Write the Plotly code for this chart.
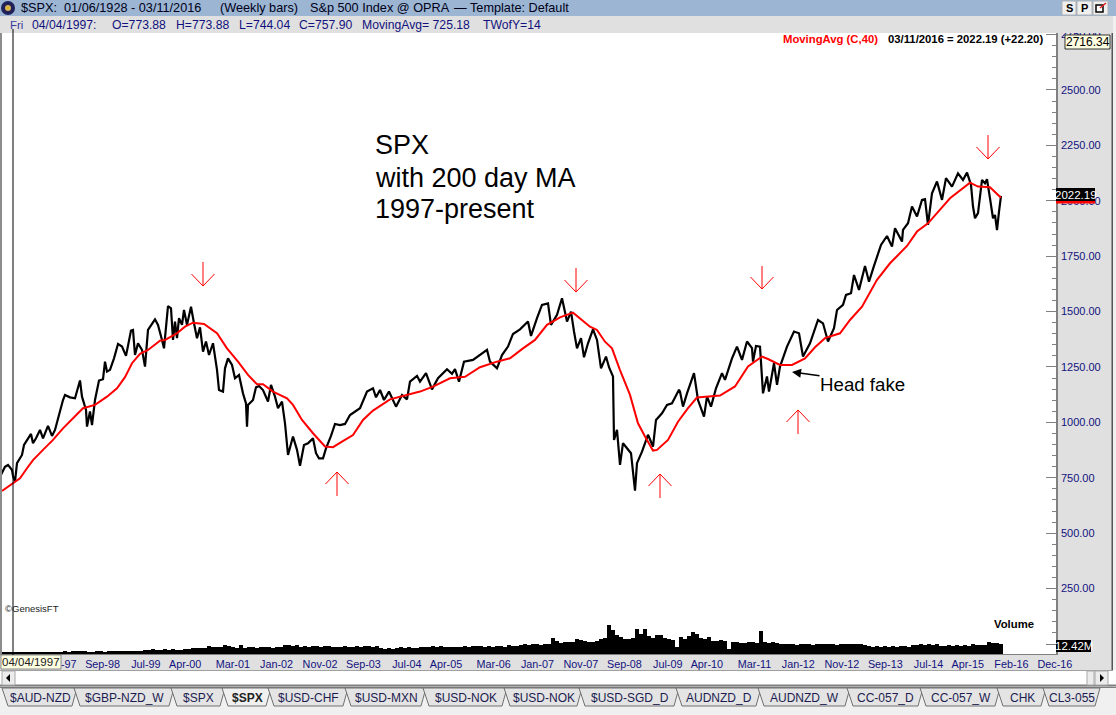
"""
SPX weekly with 40 week (200 day) moving average, 1997-present
"""
import pandas as pd
import plotly.graph_objects as go

W, H = 1116, 715
start_date = pd.Timestamp("1997-04-04")

# weeks counted from 04/04/1997, closes
close_weeks = [-12, -8, -5, -1, 0, 2, 4, 9, 11, 15, 18, 20, 23, 27, 30, 35, 39, 42, 45, 50, 52, 57, 62, 64, 67, 69, 73, 74, 77, 79,
               82, 86, 90, 92, 94, 97, 101, 105, 109, 113, 118, 120, 122, 125, 129, 132, 135, 142, 145, 149, 151, 155, 158, 160,
               162, 164, 166, 169, 171, 174, 178, 181, 184, 187, 190, 193, 196, 200, 204, 206, 210, 212, 215, 219, 222, 226, 230,
               233, 234, 235, 240, 243, 246, 250, 255, 258, 262, 265, 269, 272, 275, 280, 284, 287, 291, 295, 300, 303, 306, 310,
               313, 318, 322, 327, 332, 337, 342, 347, 354, 360, 363, 367, 371, 376, 383, 389, 394, 397, 404, 407, 413, 419, 425,
               434, 439, 442, 446, 451, 460, 466, 474, 477, 484, 489, 495, 500, 507, 515, 518, 524, 529, 535, 538, 544, 549, 554,
               558, 561, 564, 568, 571, 575, 580, 584, 588, 593, 596, 600, 601, 604, 607, 610, 614, 618, 622, 624, 629, 635, 640,
               643, 649, 654, 659, 666, 667, 670, 674, 681, 685, 691, 694, 698, 703, 709, 712, 719, 724, 729, 734, 739, 740, 743,
               747, 750, 754, 756, 761, 764, 767, 774, 781, 786, 790, 797, 805, 810, 815, 821, 824, 830, 833, 838, 841, 846, 852,
               856, 861, 865, 868, 874, 879, 882, 889, 890, 895, 899, 904, 909, 912, 915, 919, 924, 929, 933, 939, 945, 950, 954,
               958, 960, 962, 965, 969, 972, 974, 977, 980, 982, 984, 986, 988]
close_values = [763, 800, 808, 785, 758, 733, 816, 853, 898, 928, 948, 906, 928, 966, 928, 984, 939, 966, 1019, 1101, 1124, 1113, 1109, 1146, 1189, 1116, 1056, 981, 1049, 988,
                1101, 1189, 1195, 1274, 1229, 1237, 1289, 1354, 1342, 1300, 1414, 1417, 1304, 1357, 1327, 1252, 1417, 1465, 1440, 1372, 1334, 1525, 1515, 1372,
                1455, 1380, 1470, 1440, 1507, 1440, 1522, 1447, 1380, 1429, 1319, 1365, 1304, 1357, 1237, 1146, 1139, 1244, 1289, 1259, 1199, 1214, 1131,
                1086, 981, 1079, 1101, 1158, 1164, 1146, 1094, 1169, 1116, 1064, 1094, 996, 853, 936, 876, 804, 898, 906, 928, 861, 838, 838,
                883, 939, 993, 988, 993, 1033, 1048, 1064, 1139, 1154, 1113, 1146, 1101, 1139, 1071, 1124, 1104, 1184, 1210, 1184, 1222, 1149, 1199,
                1240, 1219, 1240, 1184, 1274, 1282, 1300, 1327, 1274, 1244, 1304, 1342, 1399, 1420, 1455, 1390, 1470, 1530, 1537, 1440, 1485, 1560, 1455,
                1500, 1410, 1334, 1380, 1294, 1357, 1420, 1372, 1244, 1297, 1249, 1207, 921, 966, 808, 906, 883, 861, 692, 816, 868, 944, 891,
                1011, 1041, 1079, 1086, 1147, 1139, 1071, 1131, 1222, 1101, 1026, 1116, 1071, 1154, 1222, 1192, 1289, 1342, 1282, 1365, 1335, 1274, 1345,
                1342, 1131, 1207, 1139, 1267, 1169, 1252, 1342, 1410, 1402, 1297, 1357, 1462, 1447, 1365, 1425, 1507, 1530, 1575, 1583, 1665, 1598, 1706,
                1635, 1706, 1756, 1801, 1841, 1793, 1876, 1816, 1869, 1899, 1974, 1929, 2004, 2007, 1891, 2034, 2087, 2004, 2102, 2064, 2124, 2094, 2127,
                2072, 1974, 1921, 1944, 2094, 2079, 2097, 2011, 1921, 1936, 1868, 1951, 2022.19]

ma_weeks = [-11, 2, 7, 14, 20, 30, 40, 50, 60, 70, 82, 94, 104, 112, 119, 127, 135, 147, 152, 164, 172, 180, 191, 204, 214, 225, 235,
            244, 250, 260, 274, 280, 289, 300, 312, 320, 329, 336, 340, 350, 360, 377, 394, 407, 420, 437, 452, 467, 484, 497, 510,
            522, 534, 547, 560, 577, 584, 592, 599, 607, 617, 625, 632, 640, 644, 655, 665, 675, 684, 697, 707, 722, 735, 749, 755,
            767, 779, 792, 802, 812, 827, 837, 849, 864, 877, 894, 904, 915, 937, 957, 965, 977, 988]
ma_values = [691, 733, 748, 793, 830, 876, 921, 973, 1019, 1064, 1079, 1116, 1154, 1204, 1267, 1309, 1327, 1369, 1372, 1402, 1432, 1450, 1444, 1402, 1334, 1274, 1214,
             1172, 1172, 1139, 1109, 1079, 1011, 951, 891, 888, 913, 931, 943, 1011, 1053, 1104, 1124, 1139, 1161, 1199, 1206, 1249, 1274, 1289, 1334,
             1372, 1440, 1474, 1495, 1432, 1417, 1364, 1334, 1236, 1124, 996, 936, 873, 876, 921, 1003, 1064, 1112, 1119, 1121, 1162, 1252, 1297, 1286,
             1259, 1259, 1289, 1339, 1380, 1402, 1462, 1522, 1643, 1718, 1796, 1861, 1898, 2011, 2082, 2064, 2061, 2014]

# volume in millions, one reading per four weeks
volume_m = [1.9, 1.9, 1.9, 1.9, 1.9, 2.0, 1.9, 1.9, 2.0, 1.9, 2.0, 1.9, 2.0, 2.0, 2.1,
            3.0, 3.4, 2.8, 3.6, 3.2, 3.4, 3.9, 3.0, 2.9, 3.3,
            3.6, 3.0, 3.4, 3.5, 3.9, 3.4, 3.6, 4.1, 3.5, 3.8,
            3.9, 4.6, 4.4, 5.6, 4.8, 5.2, 6.0, 5.0, 6.1, 5.3,
            5.2, 5.8, 6.4, 7.5, 8.0,
            8.0, 7.2, 10.5, 8.6, 8.4, 8.2, 11.0, 9.5, 8.6, 7.8,
            11.2, 7.4, 8.9, 8.6, 7.9, 8.8, 8.2, 9.0, 7.8, 8.6,
            9.2, 10.6, 11.6, 10.0, 11.0,
            8.4, 9.6, 8.8, 9.8, 10.2, 8.6, 9.4, 10.4, 9.2, 8.8,
            8.6, 9.8, 8.6, 8.8, 9.6, 8.4, 9.4, 10.2, 8.8, 10.0,
            7.0, 6.6, 7.6, 6.8, 7.8, 8.2, 7.2, 8.6, 7.8, 7.4,
            8.4, 9.2, 8.2, 9.6, 8.8, 9.4, 8.4, 9.0, 8.6, 9.2,
            9.0, 10.2, 8.8, 9.8, 9.4, 10.0, 8.8, 10.4, 9.2, 9.6, 10.4, 9.0, 10.6, 9.6, 10.2,
            11.4, 12.6, 11.0, 12.2, 12.8, 11.6, 12.4, 13.0,
            20.0, 16.0, 14.0, 15.4, 15.0,
            14.5, 18.6, 17.6,
            15.8, 14.6, 15.4, 16.0,
            19.0, 20.0, 36.0,
            30.0, 24.0, 21.0, 18.0,
            18.6, 20.0,
            31.0, 25.0, 31.0,
            22.0, 20.0, 23.0, 24.0,
            20.0, 18.6, 17.6, 9.0,
            21.0, 19.0, 22.0,
            27.0, 25.0,
            20.0, 19.0, 21.0,
            16.5, 15.6, 17.0, 16.0,
            6.0,
            15.0, 14.5, 14.0, 13.6, 14.6, 15.0, 14.0,
            28.0, 15.0,
            14.0, 15.0, 13.5,
            12.4, 11.8, 12.8, 12.2, 11.6, 12.6, 12.0, 12.8, 11.6, 12.4, 12.9, 11.8, 12.2, 12.6, 11.4, 12.8, 12.0, 12.4, 11.8, 12.6, 12.2, 11.6,
            9.5, 8.8, 9.8, 9.2, 10.0, 9.0, 9.6, 8.8, 9.4, 10.0, 9.2,
            11.6, 10.8, 12.4, 11.2, 12.0, 11.0, 11.8,
            10.5, 9.8, 11.0, 10.2, 10.8, 10.0, 11.2, 10.4, 12.2, 10.6, 11.0, 10.8,
            14.5, 13.8, 14.0, 12.42]

tick_dates = ["1997-11-01", "1998-09-01", "1999-07-01", "2000-04-01", "2001-03-01", "2002-01-01", "2002-11-01",
              "2003-09-01", "2004-07-01", "2005-04-01", "2006-03-01", "2007-01-01", "2007-11-01", "2008-09-01",
              "2009-07-01", "2010-04-01", "2011-03-01", "2012-01-01", "2012-11-01", "2013-09-01", "2014-07-01",
              "2015-04-01", "2016-02-01", "2016-12-01"]
tick_labels = ["Nov-97", "Sep-98", "Jul-99", "Apr-00", "Mar-01", "Jan-02", "Nov-02", "Sep-03", "Jul-04", "Apr-05", "Mar-06",
               "Jan-07", "Nov-07", "Sep-08", "Jul-09", "Apr-10", "Mar-11", "Jan-12", "Nov-12", "Sep-13", "Jul-14", "Apr-15",
               "Feb-16", "Dec-16"]

tab_names = ["$AUD-NZD", "$GBP-NZD_W", "$SPX", "$SPX", "$USD-CHF", "$USD-MXN", "$USD-NOK", "$USD-NOK", "$USD-SGD_D",
             "AUDNZD_D", "AUDNZD_W", "CC-057_D", "CC-057_W", "CHK", "CL3-055"]
tab_edges = [2, 74, 171, 222, 268, 345, 423, 504, 579, 676, 758, 847, 920, 997, 1043, 1097]


def week_dates(weeks):
    return [start_date + pd.Timedelta(days=7 * w) for w in weeks]


def px(x):
    return x / W


def py(y):
    return 1 - y / H


def rect(x0, y0, x1, y1, fill, line=None, lw=1):
    return dict(type="rect", xref="paper", yref="paper", x0=px(x0), y0=py(y0), x1=px(x1), y1=py(y1),
                fillcolor=fill, line=dict(color=line or fill, width=lw if line else 0), layer="above")


def seg(x0, y0, x1, y1, color, lw=1):
    return dict(type="line", xref="paper", yref="paper", x0=px(x0), y0=py(y0), x1=px(x1), y1=py(y1),
                line=dict(color=color, width=lw), layer="above")


def label(x, y, text, size=12, color="black", anchor="left", bold=False):
    if bold:
        text = "<b>" + text + "</b>"
    return dict(xref="paper", yref="paper", x=px(x), y=py(y), text=text, showarrow=False, xanchor=anchor, yanchor="middle",
                font=dict(family="Liberation Sans", size=size, color=color), borderpad=0, borderwidth=0)


def red_arrow(x, tip, tail):
    # head opens towards the tail, 11-12 px either side
    d = 12 if tail < tip else -12
    return [seg(x, tail, x, tip, "#ff0000"), seg(x - 11.5, tip - d, x, tip, "#ff0000"), seg(x + 11.5, tip - d, x, tip, "#ff0000")]


NAVY = "#12127e"
shapes = []
# window chrome
shapes.append(rect(0, 0, W, 16, "#9bb5d3"))
shapes.append(rect(0, 16, W, 33, "#e0e0e0"))
shapes.append(rect(0, 33, 2, 655, "#8c8c8c"))
shapes.append(rect(1113, 16, W, 715, "#f0f0f0"))
shapes.append(rect(1111.5, 33, 1113, 672, "#555555"))
shapes.append(rect(0, 670, W, 686, "#ffffff"))
shapes.append(seg(0, 670.5, 1113, 670.5, "#a0a0a0"))
shapes.append(seg(0, 685.5, W, 685.5, "#808080", 2))
shapes.append(rect(2, 671, 15, 685, "#ececec", "#a8a8a8"))
shapes.append(dict(type="path", xref="paper", yref="paper", layer="above", fillcolor="black", line=dict(width=0),
                   path="M %f %f L %f %f L %f %f Z" % (px(6), py(678), px(10), py(674), px(10), py(682))))
shapes.append(rect(1087, 671, 1094, 685, "#ececec", "#a8a8a8"))
shapes.append(rect(1095, 671, 1108, 685, "#ececec", "#a8a8a8"))
shapes.append(dict(type="path", xref="paper", yref="paper", layer="above", fillcolor="black", line=dict(width=0),
                   path="M %f %f L %f %f L %f %f Z" % (px(1104), py(678), px(1100), py(674), px(1100), py(682))))
shapes.append(rect(0, 687, W, 715, "#f0f0f0"))
shapes.append(seg(0, 687.5, W, 687.5, "#808080"))

# tabs
annotations = []
for i, name in enumerate(tab_names):
    x0, x1 = tab_edges[i], tab_edges[i + 1]
    fill = "#f0f0f0" if i == 3 else "#e4e4e4"
    shapes.append(dict(type="path", xref="paper", yref="paper", layer="above", fillcolor=fill,
                       line=dict(color="#707070", width=1),
                       path="M %f %f L %f %f L %f %f L %f %f Z" % (px(x0), py(688), px(x0 + 6), py(706), px(x1 - 2), py(706), px(x1 + 3), py(688))))
    annotations.append(label((x0 + x1) / 2 + 2, 698, name, size=12, color="#1c1c50" if i != 3 else "#222222",
                             anchor="center", bold=(i == 3)))

# top bar icon and buttons
shapes.append(dict(type="circle", xref="paper", yref="paper", x0=px(1), y0=py(15), x1=px(15), y1=py(1),
                   fillcolor="#20205a", line=dict(width=0), layer="above"))
shapes.append(dict(type="circle", xref="paper", yref="paper", x0=px(5), y0=py(11), x1=px(11), y1=py(5),
                   fillcolor="#d9b44a", line=dict(width=0), layer="above"))
for bx0, bx1 in [(1062, 1076), (1077, 1092), (1093, 1108)]:
    shapes.append(rect(bx0, 1, bx1, 15, "#efefef", "#b0b0b0"))
shapes.append(rect(1096, 5, 1103, 12, "#ffffff", "black", 1.5))
shapes.append(seg(1100, 8, 1106, 3, "#e02020", 1.5))

# red arrows drawn on the chart
for ax_x, tip, tail in [(203, 286, 262), (576, 292, 268), (762, 289, 266), (988, 159, 135),
                        (337, 472, 496), (660, 474, 498), (798, 410, 434)]:
    shapes += red_arrow(ax_x, tip, tail)

# price and volume readouts over the axis
shapes.append(rect(1065, 35, 1110, 49, "#ffffe1", "black", 0.8))
shapes.append(rect(1056, 188, 1095, 201, "black"))
shapes.append(rect(1056, 201, 1095, 203.5, "#ff0000"))
shapes.append(rect(1056, 640, 1091, 652, "black"))
shapes.append(rect(1, 655, 61, 669, "#ffffe1", "#707070", 0.8))

annotations += [
    label(21, 8, "$SPX:", 12.7, "#000018"),
    label(64, 8, "01/06/1928 - 03/11/2016", 12.7, "#000018"),
    label(220, 8, "(Weekly bars)", 12.7, "#000018"),
    label(310, 8, "S&amp;p 500 Index @ OPRA", 12.7, "#000018"),
    label(454, 8, "—", 12.7, "#000018"),
    label(470, 8, "Template: Default", 12.7, "#000018"),
    label(10, 24.5, "Fri", 11.5, "#3a3a9a"),
    label(32, 24.5, "04/04/1997:", 12.2, NAVY),
    label(112, 24.5, "O=773.88", 12.2, NAVY),
    label(176, 24.5, "H=773.88", 12.2, NAVY),
    label(239, 24.5, "L=744.04", 12.2, NAVY),
    label(299, 24.5, "C=757.90", 12.2, NAVY),
    label(362, 24.5, "MovingAvg= 725.18", 12.2, NAVY),
    label(483, 24.5, "TWofY=14", 12.2, NAVY),
    label(1069, 8, "S", 11, "black", "center", True),
    label(1084.5, 8, "P", 11, "black", "center", True),
    label(783, 39, "MovingAvg (C,40)", 11.3, "#ff0000", bold=True),
    label(888, 39, "03/11/2016 = 2022.19 (+22.20)", 11.3, "black", bold=True),
    label(375, 145, "SPX", 27),
    label(375, 178, "with 200 day MA", 27),
    label(375, 209, "1997-present", 27),
    label(820, 384, "Head fake", 18.7),
    label(5, 608, "©GenesisFT", 9.5, "#222222"),
    label(994, 624, "Volume", 11.3, "black", bold=True),
    label(1087.5, 42, "2716.34", 12, "black", "center"),
    label(1075.5, 195, "2022.19", 11.5, "white", "center"),
    label(1073.5, 646, "12.42M", 11.5, "white", "center"),
    label(31, 662, "04/04/1997", 11.5, "#202020", "center"),
    dict(xref="paper", yref="paper", x=px(792), y=py(372), ax=29, ay=4, text="", showarrow=True, arrowhead=2,
         arrowsize=1.2, arrowwidth=1.5, arrowcolor="black"),
]

data = [
    go.Bar(x=week_dates(range(-12, -12 + 4 * len(volume_m), 4)), y=volume_m, yaxis="y2", width=4 * 7 * 24 * 3600 * 1000,
           marker=dict(color="black", line=dict(width=0)), name="Volume", showlegend=False),
    go.Scatter(x=week_dates(close_weeks), y=close_values, mode="lines", line=dict(color="black", width=2.2),
               name="$SPX", showlegend=False),
    go.Scatter(x=week_dates(ma_weeks), y=ma_values, mode="lines", line=dict(color="#ff0000", width=2),
               name="MovingAvg (C,40)", showlegend=False),
]

# one pixel is one week on the time axis
x_range = [start_date + pd.Timedelta(days=7 * -11), start_date + pd.Timedelta(days=7 * 1043)]
# price axis runs 250 points per 55.4 px, volume 1.24M per px
layout = go.Layout(
    width=W, height=H, margin=dict(l=0, r=0, t=0, b=0, autoexpand=False),
    paper_bgcolor="#e0e0e0", plot_bgcolor="white", bargap=0, showlegend=False,
    xaxis=dict(domain=[px(2), px(1056)], range=x_range, type="date", tickvals=tick_dates, ticktext=tick_labels,
               automargin=False, tickangle=0, ticks="", showgrid=False, zeroline=False, showline=True,
               linecolor="#808080", linewidth=1, ticklabelshift=16,
               tickfont=dict(family="Liberation Sans", size=10.8, color=NAVY)),
    yaxis=dict(domain=[py(654), py(33)], range=[-45.1, 2757], side="right", dtick=250, tick0=0, tickformat=".2f",
               automargin=False, ticks="inside", ticklen=10, tickcolor="#808080", tickwidth=1, showgrid=False,
               zeroline=False, showline=True, linecolor="#808080", linewidth=1.5, ticklabelstandoff=1,
               minor=dict(dtick=50, tick0=0, ticks="inside", ticklen=4, tickcolor="#808080", tickwidth=1, showgrid=False),
               tickfont=dict(family="Liberation Sans", size=11, color=NAVY)),
    yaxis2=dict(domain=[py(654), py(33)], range=[0, 770], overlaying="y", side="right", visible=False, automargin=False),
    shapes=shapes, annotations=annotations,
)
# vertical crosshair on the selected bar
layout.shapes = list(layout.shapes) + [dict(type="line", xref="x", yref="paper", x0=start_date, x1=start_date,
                                            y0=py(655), y1=py(29), line=dict(color="black", width=1), layer="above")]

fig = go.Figure(data=data, layout=layout)
# browser default body margin would push the picture off the window
fig.write_html("out.html", config=dict(displayModeBar=False),
               post_script="document.body.style.margin='0';document.body.style.overflow='hidden';")
